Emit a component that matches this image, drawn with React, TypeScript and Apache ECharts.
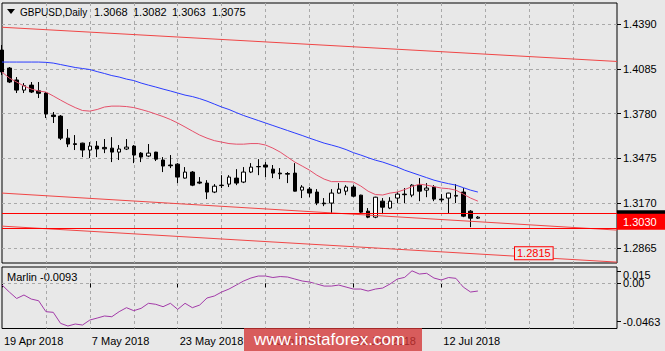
import React, { useEffect, useRef } from "react";
import * as echarts from "echarts";

const MONTHS = ["Jan", "Feb", "Mar", "Apr", "May", "Jun", "Jul", "Aug", "Sep", "Oct", "Nov", "Dec"];
function tradingDays(startUTC: number, count: number): string[] {
  const out: string[] = [];
  let t = startUTC;
  while (out.length < count) {
    const d = new Date(t);
    const wd = d.getUTCDay();
    if (wd !== 0 && wd !== 6) out.push(`${d.getUTCDate()} ${MONTHS[d.getUTCMonth()]} ${d.getUTCFullYear()}`);
    t += 86400000;
  }
  return out;
}
// 66 bars of data + empty space on the right of the chart
const dates = tradingDays(Date.UTC(2018, 3, 19), 85);

const opens = [
  1.4213, 1.4090, 1.4009, 1.3940, 1.3974, 1.3935, 1.3920, 1.3770, 1.3763, 1.3613,
  1.3575, 1.3579, 1.3532, 1.3559, 1.3550, 1.3545, 1.3518, 1.3539, 1.3559, 1.3511,
  1.3491, 1.3518, 1.3464, 1.3430, 1.3436, 1.3341, 1.3382, 1.3314, 1.3307, 1.3246,
  1.3293, 1.3300, 1.3341, 1.3314, 1.3382, 1.3420, 1.3430, 1.3402, 1.3375, 1.3372,
  1.3375, 1.3259, 1.3266, 1.3246, 1.3171, 1.3171, 1.3239, 1.3252, 1.3280, 1.3225,
  1.3116, 1.3075, 1.3184, 1.3137, 1.3205, 1.3232, 1.3225, 1.3293, 1.3259, 1.3280,
  1.3198, 1.3205, 1.3218, 1.3246, 1.3116, 1.3068,
];
const highs = [
  1.4247, 1.4097, 1.4029, 1.3988, 1.3995, 1.3995, 1.3927, 1.3791, 1.3770, 1.3675,
  1.3634, 1.3582, 1.3586, 1.3593, 1.3607, 1.3620, 1.3566, 1.3607, 1.3566, 1.3518,
  1.3573, 1.3520, 1.3484, 1.3498, 1.3443, 1.3416, 1.3389, 1.3348, 1.3327, 1.3300,
  1.3361, 1.3361, 1.3402, 1.3416, 1.3443, 1.3470, 1.3450, 1.3430, 1.3409, 1.3382,
  1.3443, 1.3293, 1.3280, 1.3266, 1.3205, 1.3266, 1.3307, 1.3293, 1.3293, 1.3228,
  1.3137, 1.3214, 1.3205, 1.3211, 1.3246, 1.3273, 1.3300, 1.3341, 1.3307, 1.3293,
  1.3232, 1.3241, 1.3300, 1.3273, 1.3123, 1.3082,
];
const lows = [
  1.4043, 1.3988, 1.3920, 1.3920, 1.3920, 1.3886, 1.3750, 1.3716, 1.3600, 1.3552,
  1.3532, 1.3484, 1.3477, 1.3484, 1.3511, 1.3450, 1.3464, 1.3532, 1.3443, 1.3450,
  1.3484, 1.3457, 1.3382, 1.3409, 1.3307, 1.3338, 1.3286, 1.3300, 1.3198, 1.3239,
  1.3273, 1.3280, 1.3293, 1.3307, 1.3375, 1.3361, 1.3348, 1.3341, 1.3334, 1.3307,
  1.3250, 1.3205, 1.3211, 1.3157, 1.3150, 1.3102, 1.3236, 1.3225, 1.3211, 1.3102,
  1.3068, 1.3068, 1.3096, 1.3130, 1.3171, 1.3171, 1.3211, 1.3184, 1.3211, 1.3184,
  1.3177, 1.3102, 1.3171, 1.3075, 1.3007, 1.3063,
];
const closes = [
  1.4063, 1.3995, 1.3940, 1.3970, 1.3927, 1.3918, 1.3777, 1.3760, 1.3613, 1.3573,
  1.3570, 1.3532, 1.3559, 1.3539, 1.3540, 1.3518, 1.3539, 1.3552, 1.3498, 1.3484,
  1.3511, 1.3470, 1.3423, 1.3425, 1.3348, 1.3382, 1.3293, 1.3307, 1.3246, 1.3286,
  1.3290, 1.3348, 1.3307, 1.3382, 1.3416, 1.3418, 1.3416, 1.3375, 1.3370, 1.3368,
  1.3252, 1.3280, 1.3239, 1.3171, 1.3166, 1.3239, 1.3266, 1.3280, 1.3218, 1.3109,
  1.3075, 1.3211, 1.3143, 1.3184, 1.3232, 1.3228, 1.3293, 1.3252, 1.3273, 1.3198,
  1.3193, 1.3239, 1.3223, 1.3082, 1.3068, 1.3075,
];
const maSlow = [
  1.4131, 1.4131, 1.4131, 1.4131, 1.4131, 1.4131, 1.4129, 1.4124, 1.4114, 1.4104,
  1.4094, 1.4087, 1.4080, 1.4066, 1.4053, 1.4039, 1.4029, 1.4015, 1.4005, 1.3988,
  1.3974, 1.3961, 1.3947, 1.3934, 1.3920, 1.3906, 1.3896, 1.3882, 1.3865, 1.3845,
  1.3825, 1.3808, 1.3787, 1.3767, 1.3750, 1.3733, 1.3716, 1.3699, 1.3682, 1.3665,
  1.3648, 1.3631, 1.3613, 1.3596, 1.3579, 1.3566, 1.3552, 1.3535, 1.3514, 1.3498,
  1.3480, 1.3463, 1.3450, 1.3433, 1.3416, 1.3395, 1.3378, 1.3361, 1.3344, 1.3327,
  1.3314, 1.3303, 1.3293, 1.3276, 1.3259, 1.3246,
];
const maFast = [
  1.4063, 1.4022, 1.3995, 1.3968, 1.3947, 1.3934, 1.3927, 1.3900, 1.3872, 1.3845,
  1.3821, 1.3801, 1.3797, 1.3808, 1.3825, 1.3831, 1.3831, 1.3828, 1.3821, 1.3808,
  1.3794, 1.3777, 1.3760, 1.3740, 1.3716, 1.3689, 1.3661, 1.3634, 1.3613, 1.3596,
  1.3586, 1.3576, 1.3572, 1.3572, 1.3576, 1.3576, 1.3566, 1.3545, 1.3518, 1.3484,
  1.3450, 1.3423, 1.3395, 1.3361, 1.3334, 1.3317, 1.3317, 1.3317, 1.3314, 1.3287,
  1.3252, 1.3229, 1.3226, 1.3239, 1.3246, 1.3263, 1.3283, 1.3300, 1.3293, 1.3283,
  1.3273, 1.3269, 1.3259, 1.3232, 1.3205, 1.3184,
];
const marlin = [
  -0.0020, -0.0105, -0.0183, -0.0141, -0.0190, -0.0210, -0.0342, -0.0350, -0.0483, -0.0515,
  -0.0491, -0.0503, -0.0443, -0.0419, -0.0394, -0.0403, -0.0342, -0.0294, -0.0330, -0.0302,
  -0.0241, -0.0253, -0.0282, -0.0241, -0.0314, -0.0241, -0.0294, -0.0262, -0.0177, -0.0153,
  -0.0105, -0.0069, -0.0021, 0.0028, 0.0064, 0.0088, 0.0088, 0.0070, 0.0082, 0.0076,
  0.0052, 0.0028, 0.0016, -0.0008, -0.0033, -0.0033, -0.0021, -0.0045, -0.0069, -0.0069,
  -0.0093, -0.0069, -0.0057, -0.0008, 0.0052, 0.0072, 0.0151, 0.0112, 0.0121, 0.0064,
  0.0040, 0.0070, 0.0060, -0.0045, -0.0105, -0.0093,
];

const priceTicks = [1.439, 1.4085, 1.378, 1.3475, 1.317, 1.2865];
const marlinTicks = [0.015, 0, -0.0463];
const marlinTickLabels = ["0.015", "0.00", "-0.0463"];
// trend channel: [value at first bar, value at last category]
const channelTop = [1.4368, 1.4135];
const channelMid = [1.3239, 1.2987];
const channelLow = [1.3014, 1.2769];
const levels = [1.3056, 1.303];
const levelLabel = "1.3030";
const bidPrice = 1.3075;
const trendLabelAt = [70.3, 1.2815];

const FONT = '"Liberation Sans", Arial, sans-serif';
const GRID_COLOR = "#a9a9a9";
const BG = "#e8e8e8";

export default function App() {
  const ref = useRef<HTMLDivElement>(null);
  useEffect(() => {
    if (!ref.current) return;
    const chart = echarts.init(ref.current, null, { renderer: "svg" });
    const lastIdx = dates.length - 1;
    const candle = opens.map((o, i) => [o, closes[i], lows[i], highs[i]]);
    const splitIv = (i: number) => i % 6 === 0 && i > 0 && i < lastIdx;
    const baseGraphic: any[] = [
      { type: "polygon", shape: { points: [[7, 9], [15, 9], [11, 14]] }, style: { fill: "#000" } },
      { type: "text", x: 20, y: 12, style: { text: "GBPUSD,Daily", fill: "#000", font: `10px ${FONT}`, verticalAlign: "middle" } },
      { type: "text", x: 94, y: 12, style: { text: opens[opens.length - 1].toFixed(4), fill: "#000", font: `11px ${FONT}`, verticalAlign: "middle" } },
      { type: "text", x: 133, y: 12, style: { text: highs[highs.length - 1].toFixed(4), fill: "#000", font: `11px ${FONT}`, verticalAlign: "middle" } },
      { type: "text", x: 172, y: 12, style: { text: lows[lows.length - 1].toFixed(4), fill: "#000", font: `11px ${FONT}`, verticalAlign: "middle" } },
      { type: "text", x: 212, y: 12, style: { text: closes[closes.length - 1].toFixed(4), fill: "#000", font: `11px ${FONT}`, verticalAlign: "middle" } },
      { type: "text", x: 7, y: 277, style: { text: `Marlin ${marlin[marlin.length - 1].toFixed(4)}`, fill: "#000", font: `11px ${FONT}`, verticalAlign: "middle" } },
      { type: "rect", x: 244, y: 328, shape: { x: 0, y: 0, width: 178, height: 23 }, style: { fill: "rgba(212,52,52,0.78)" }, z: 100 },
      { type: "text", x: 254, y: 339.5, style: { text: "www.instaforex.com", fill: "#fff", font: `17px ${FONT}`, verticalAlign: "middle" }, z: 101 },
    ];
    const option: any = {
      animation: false,
      backgroundColor: BG,
      textStyle: { fontFamily: FONT },
      grid: [
        { left: 2, right: 48, top: 3, height: 260, show: true, borderColor: "#000", borderWidth: 1 },
        { left: 2, right: 48, top: 267, height: 61.5, show: true, borderColor: "#000", borderWidth: 1 },
      ],
      xAxis: [
        {
          type: "category", gridIndex: 0, data: dates, boundaryGap: false,
          axisLine: { show: false }, axisTick: { show: false }, axisLabel: { show: false },
          splitLine: { show: true, interval: splitIv, lineStyle: { color: GRID_COLOR, type: [3, 3], width: 1 } },
        },
        {
          type: "category", gridIndex: 1, data: dates, boundaryGap: false,
          axisLine: { show: false },
          axisTick: { show: true, interval: (i: number) => i % 12 === 0 && i <= 60, length: 4, lineStyle: { color: "#000" } },
          axisLabel: {
            show: true, interval: 0, align: "left", margin: 7, fontSize: 11, color: "#000", padding: [0, 0, 0, 2],
            hideOverlap: false,
            formatter: (v: string, i: number) => (i % 12 === 0 && i <= 60 ? v : ""),
          },
          splitLine: { show: true, interval: splitIv, lineStyle: { color: GRID_COLOR, type: [3, 3], width: 1 } },
        },
      ],
      yAxis: [
        {
          type: "value", gridIndex: 0, position: "right", min: 1.2763, max: 1.4533,
          axisLine: { show: false },
          axisTick: { show: true, customValues: priceTicks, length: 4, lineStyle: { color: "#000" } },
          axisLabel: { customValues: priceTicks, hideOverlap: false, formatter: (v: number) => v.toFixed(4), color: "#000", fontSize: 11, margin: 6 },
          splitLine: { show: true, lineStyle: { color: GRID_COLOR, type: [3, 3], width: 1 } },
        },
        {
          type: "value", gridIndex: 1, position: "right", min: -0.0545, max: 0.0197,
          axisLine: { show: false },
          axisTick: { show: true, customValues: marlinTicks, length: 4, lineStyle: { color: "#000" } },
          axisLabel: {
            customValues: marlinTicks.slice(1), hideOverlap: false,
            color: "#000", fontSize: 11, margin: 6,
            formatter: (v: number) => {
              const i = marlinTicks.findIndex((t) => Math.abs(t - v) < 1e-9);
              return i >= 0 ? marlinTickLabels[i] : "";
            },
          },
          splitLine: { show: false },
        },
      ],
      series: [
        {
          type: "candlestick", xAxisIndex: 0, yAxisIndex: 0, data: candle, barWidth: 4,
          itemStyle: { color: "#ffffff", color0: "#000000", borderColor: "#000000", borderColor0: "#000000", borderWidth: 1 },
          markLine: {
            silent: true, symbol: ["none", "none"], label: { show: false },
            lineStyle: { color: "#a0a0a0", type: "solid", width: 1 },
            data: [{ yAxis: bidPrice }],
          },
        },
        {
          type: "line", xAxisIndex: 0, yAxisIndex: 0, data: maSlow, showSymbol: false, symbol: "none",
          lineStyle: { color: "#2b3cff", width: 1 }, silent: true,
        },
        {
          type: "line", xAxisIndex: 0, yAxisIndex: 0, data: maFast, showSymbol: false, symbol: "none",
          lineStyle: { color: "#e5506a", width: 1 }, silent: true,
          markLine: {
            silent: true, symbol: ["none", "none"], z: 6, label: { show: false },
            lineStyle: { color: "#ff0000", type: "solid", width: 1 },
            data: levels.map((v) => ({ yAxis: v })),
          },
        },
        {
          type: "line", xAxisIndex: 0, yAxisIndex: 0, data: [[0, channelTop[0]], [lastIdx, channelTop[1]]],
          symbol: "none", lineStyle: { color: "#f04646", width: 1 }, silent: true,
        },
        {
          type: "line", xAxisIndex: 0, yAxisIndex: 0, data: [[0, channelMid[0]], [lastIdx, channelMid[1]]],
          symbol: "none", lineStyle: { color: "#f04646", width: 1 }, silent: true,
        },
        {
          type: "line", xAxisIndex: 0, yAxisIndex: 0, data: [[0, channelLow[0]], [lastIdx, channelLow[1]]],
          symbol: "none", lineStyle: { color: "#f04646", width: 1 }, silent: true,
          markPoint: {
            silent: true, symbol: "circle", symbolSize: 1, itemStyle: { color: "transparent" },
            label: {
              show: true, position: "right", distance: 0, formatter: trendLabelAt[1].toFixed(4),
              color: "#ff0000", fontSize: 11, borderColor: "#ff0000", borderWidth: 1, padding: [1, 2, 0, 2],
              backgroundColor: BG, offset: [0, -2],
            },
            data: [{ coord: trendLabelAt }],
          },
        },
        {
          type: "line", xAxisIndex: 1, yAxisIndex: 1, data: marlin, showSymbol: false, symbol: "none",
          lineStyle: { color: "#a23aa8", width: 1 }, silent: true,
          markLine: {
            silent: true, symbol: ["none", "none"], label: { show: false },
            lineStyle: { color: GRID_COLOR, type: [3, 3], width: 1 },
            data: [{ yAxis: 0 }],
          },
        },
      ],
      graphic: baseGraphic,
    };
    chart.setOption(option);

    // price tags on the right scale, placed through the axes' own scales
    const yBid = chart.convertToPixel({ yAxisIndex: 0 }, bidPrice) as number;
    const yLvl = chart.convertToPixel({ yAxisIndex: 0 }, levels[1]) as number;
    const y015 = chart.convertToPixel({ yAxisIndex: 1 }, marlinTicks[0]) as number;
    const tagX = 617;
    const tags: any[] = [
      { type: "rect", x: tagX, y: yBid - 7, shape: { x: 0, y: 0, width: 48, height: 16 }, style: { fill: "#000" }, z: 50 },
      { type: "text", x: 623, y: yBid + 1, style: { text: bidPrice.toFixed(4), fill: "#fff", font: `11px ${FONT}`, verticalAlign: "middle" }, z: 51 },
      { type: "rect", x: tagX, y: yLvl - 10, shape: { x: 0, y: 0, width: 48, height: 16 }, style: { fill: "#ff0000" }, z: 52 },
      { type: "text", x: 623, y: yLvl - 2, style: { text: levelLabel, fill: "#fff", font: `11px ${FONT}`, verticalAlign: "middle" }, z: 53 },
      { type: "text", x: 623, y: y015 + 4.5, style: { text: marlinTickLabels[0], fill: "#000", font: `11px ${FONT}`, verticalAlign: "middle" }, z: 50 },
    ];
    chart.setOption({ graphic: [...baseGraphic, ...tags] });
    return () => chart.dispose();
  }, []);
  return <div ref={ref} style={{ position: "fixed", left: 0, top: 0, width: 665, height: 351 }} />;
}
